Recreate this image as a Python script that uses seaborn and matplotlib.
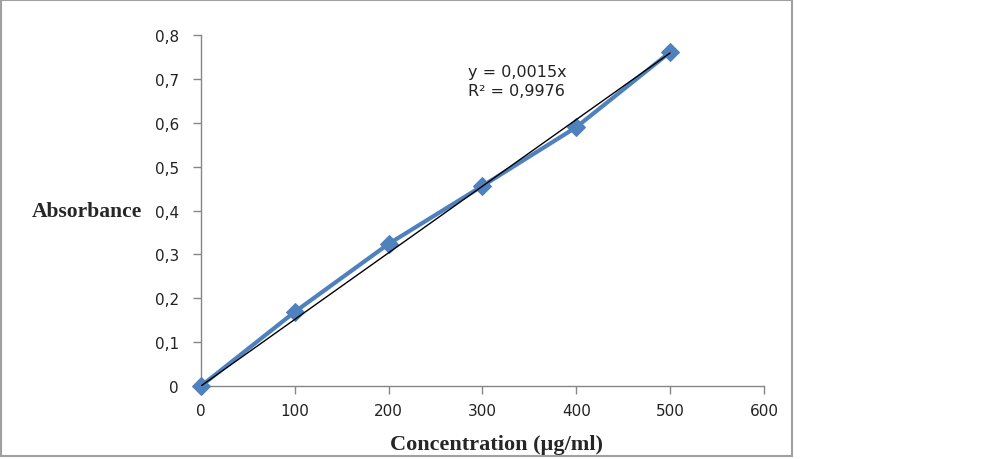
import numpy as np
import matplotlib
matplotlib.use("Agg")
import matplotlib.pyplot as plt
from matplotlib.patches import Rectangle
from matplotlib.ticker import FuncFormatter
import seaborn as sns
import pandas as pd

# ─── Data ─────────────────────────────────────────────────────────────────────
concentration = [0, 100, 200, 300, 400, 500]
absorbance    = [0.0, 0.169, 0.324, 0.456, 0.590, 0.761]
x_ticks = [0, 100, 200, 300, 400, 500, 600]
y_ticks = [0, 0.1, 0.2, 0.3, 0.4, 0.5, 0.6, 0.7, 0.8]
trend_label = "y = 0,0015x\nR² = 0,9976"
# ──────────────────────────────────────────────────────────────────────────────

BLUE = "#4F81BD"
GREY = "#868686"
TEXT = "#222222"

sns.set_style("white")
plt.rcParams["font.family"] = ["DejaVu Sans"]

df = pd.DataFrame({"conc": concentration, "abs": absorbance})

# linear trend forced through the origin
x = np.array(concentration, dtype=float)
y = np.array(absorbance)
slope = (x * y).sum() / (x * x).sum()

fig = plt.figure(figsize=(9.92, 4.6), dpi=100)
ax = fig.add_axes([0.2026, 0.1587, 0.5675, 0.763])

sns.lineplot(data=df, x="conc", y="abs", ax=ax, color=BLUE, linewidth=3,
             marker="D", markersize=9, markeredgecolor=BLUE, zorder=3, clip_on=False)
ax.plot([0, x.max()], [0, slope * x.max()], color="black", linewidth=1, zorder=4)

ax.set_xlim(0, 600)
ax.set_ylim(0, 0.8)
ax.set_xticks(x_ticks)
ax.set_yticks(y_ticks)
ax.yaxis.set_major_formatter(FuncFormatter(lambda v, p: "0" if v == 0 else f"{v:.1f}".replace(".", ",")))
ax.tick_params(axis="both", direction="out", length=6, width=1, color=GREY,
               labelsize=11, labelcolor=TEXT, bottom=True, left=True)
ax.tick_params(axis="x", pad=6)
ax.tick_params(axis="y", pad=10)
for side in ["top", "right"]:
    ax.spines[side].set_visible(False)
for side in ["left", "bottom"]:
    ax.spines[side].set_color(GREY)
    ax.spines[side].set_linewidth(1)

ax.set_xlabel("")
ax.set_ylabel("")
fig.text(0.5005, 0.033, "Concentration (µg/ml)", ha="center", va="center",
         family="Liberation Serif", fontweight="bold", fontsize=16)
fig.text(0.0322, 0.539, "Absorbance", ha="left", va="center",
         family="Liberation Serif", fontweight="bold", fontsize=15.5)

ax.text(0.472, 0.822, trend_label, transform=fig.transFigure, color=TEXT,
        ha="left", va="center", fontsize=11.5, linespacing=1.35)

fig.patches.append(Rectangle((0.001, 0.006), 0.797, 0.992, transform=fig.transFigure,
                             fill=False, edgecolor="#a0a0a0", linewidth=1.5))

fig.savefig("out.png", dpi=100)
